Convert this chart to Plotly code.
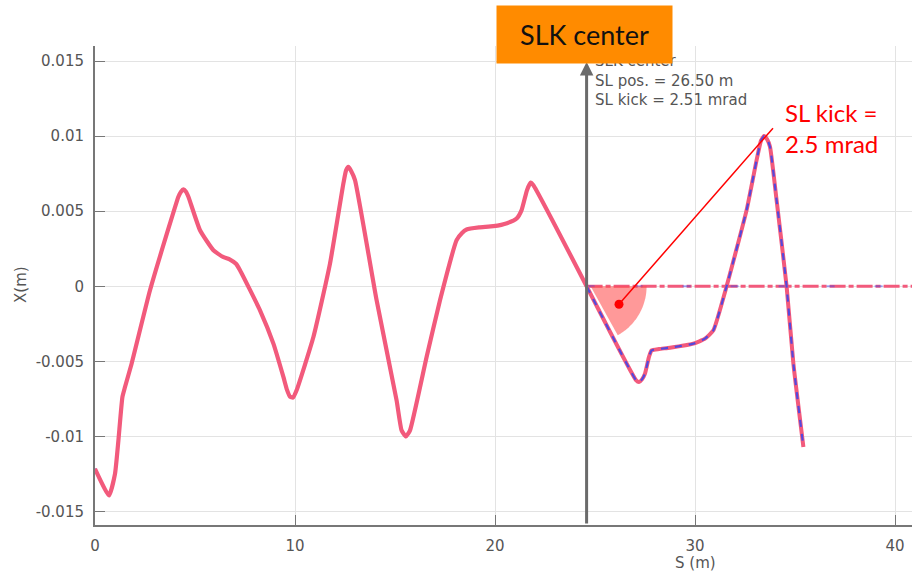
import numpy as np
import plotly.graph_objects as go

# Horizontal closed orbit upstream of the kicker (both codes overlap here)
s_orbit = [0.0, 0.7, 1.0, 1.17, 1.37, 1.5, 1.83, 2.75, 3.75, 4.17, 4.3, 4.42, 4.55, 4.67,
           5.25, 5.92, 6.4, 6.75, 7.05, 7.25, 8.25, 8.92, 9.42, 9.6, 9.75, 9.9, 10.08,
           10.92, 11.75, 12.42, 12.55, 12.67, 12.8, 13.0, 14.08, 15.08, 15.33, 15.55,
           15.75, 16.58, 17.25, 18.08, 18.35, 18.58, 19.2, 19.92, 20.6, 21.08, 21.33,
           21.6, 21.78, 21.92, 24.58]
x_orbit = [-0.01216, -0.01393, -0.01249, -0.01027, -0.00738, -0.00671, -0.00516, -0.00027,
           0.00418, 0.00596, 0.00630, 0.00645, 0.00630, 0.00596,
           0.00373, 0.00240, 0.00195, 0.00178, 0.00150, 0.00107, -0.00160, -0.00382,
           -0.00604, -0.00690, -0.00735, -0.00742, -0.00693,
           -0.00338, 0.00151, 0.00685, 0.00770, 0.00795, 0.00770, 0.00707, -0.00093,
           -0.00760, -0.00960, -0.01000, -0.00960, -0.00471, -0.00093, 0.00307, 0.00355,
           0.00378, 0.00392, 0.00400, 0.00420, 0.00451, 0.00507,
           0.00640, 0.00690, 0.00673, 0.0]

# Orbit downstream of the SL kick
s_kicked = [24.58, 27.05, 27.2, 27.35, 27.5, 27.7, 27.83, 28.2, 28.75, 29.92, 30.5, 30.92,
            31.58, 32.58, 33.08, 33.3, 33.45, 33.6, 33.75, 34.08, 34.58, 34.92, 35.42]
x_kicked = [0.0, -0.00625, -0.00638, -0.00620, -0.00582, -0.00470, -0.00427, -0.00418,
            -0.00409, -0.00382, -0.00349, -0.00293,
            0.0, 0.00507, 0.00840, 0.00970, 0.01000, 0.00980, 0.00929, 0.00573, 0.0,
            -0.00516, -0.01070]

# Unperturbed orbit after the kicker
s_flat = [24.58, 41.5]
x_flat = [0.0, 0.0]

x_ticks = [0, 10, 20, 30, 40]
y_ticks = [-0.015, -0.01, -0.005, 0, 0.005, 0.01, 0.015]
y_tick_text = ["-0.015", "-0.01", "-0.005", "0", "0.005", "0.01", "0.015"]

slk_s = 24.58          # kicker location along the line (m)
kick_angle_deg = 61.0  # apparent deflection angle on screen

W, H = 912, 574
M_L, M_R, M_T, M_B = 95, 0, 46, 49
x_range = [0, 40.85]
y_range = [-0.0159, 0.016]

PINK = "#f25a7c"
BLUE = "#3a46ee"
GREY_TXT = "#555555"
AXIS = "#777777"

fig = go.Figure()

smooth = dict(shape="spline", smoothing=0.45)

fig.add_trace(go.Scatter(x=s_orbit, y=x_orbit, mode="lines",
                         line=dict(color=BLUE, width=2.5, **smooth), hoverinfo="skip"))
fig.add_trace(go.Scatter(x=s_orbit, y=x_orbit, mode="lines",
                         line=dict(color=PINK, width=4.2, **smooth), hoverinfo="skip"))

fig.add_trace(go.Scatter(x=s_flat, y=x_flat, mode="lines",
                         line=dict(color=PINK, width=3, dash="16px,3px,5px,3px"),
                         hoverinfo="skip"))
fig.add_trace(go.Scatter(x=s_flat, y=x_flat, mode="lines", opacity=0.45,
                         line=dict(color=BLUE, width=2, dash="8px,40px"),
                         hoverinfo="skip"))

fig.add_trace(go.Scatter(x=s_kicked, y=x_kicked, mode="lines",
                         line=dict(color=PINK, width=4, **smooth), hoverinfo="skip"))
fig.add_trace(go.Scatter(x=s_kicked, y=x_kicked, mode="lines", opacity=0.85,
                         line=dict(color=BLUE, width=2.2, dash="7px,7px", **smooth),
                         hoverinfo="skip"))

# Kick-angle wedge, drawn with a fixed on-screen radius
px_per_s = (W - M_L - M_R) / (x_range[1] - x_range[0])
px_per_x = (H - M_T - M_B) / (y_range[1] - y_range[0])
r_px = 56
cs = slk_s + 4 / px_per_s
t = np.radians(np.linspace(0, -kick_angle_deg, 40))
ws = cs + r_px * np.cos(t) / px_per_s
wx = r_px * np.sin(t) / px_per_x
path = f"M {cs},0 " + " ".join(f"L {a},{b}" for a, b in zip(ws, wx)) + " Z"

dot_s, dot_x = 26.2, -0.0012
lbl_s, lbl_x = 33.9, 0.01053

shapes = [
    dict(type="path", path=path, xref="x", yref="y", fillcolor="rgba(255,70,70,0.55)",
         line=dict(width=0), layer="above"),
    dict(type="line", xref="x", yref="y", x0=dot_s, y0=dot_x, x1=lbl_s, y1=lbl_x,
         line=dict(color="#ff0000", width=1.5), layer="above"),
    dict(type="circle", xref="x", yref="y", xsizemode="pixel", ysizemode="pixel",
         xanchor=dot_s, yanchor=dot_x, x0=-4.5, x1=4.5, y0=-4.5, y1=4.5,
         fillcolor="#ff0000", line=dict(width=0), layer="above"),
]


def px_to_paper(px, py):
    return ((px - M_L) / (W - M_L - M_R), (H - M_B - py) / (H - M_T - M_B))


box_x, box_y = px_to_paper(584.5, 34.5)
ylab_x, ylab_y = px_to_paper(21, 285)
xlab_x, xlab_y = px_to_paper(695, 563)

annotations = [
    # kicker marker arrow
    dict(x=slk_s, y=0.01493, ax=slk_s, ay=y_range[0], xref="x", yref="y",
         axref="x", ayref="y", text="", showarrow=True, arrowhead=2, arrowsize=0.9,
         arrowwidth=3, arrowcolor="#6b6b6b"),
    dict(x=24.9, y=0.0137, xref="x", yref="y", xanchor="left", yanchor="middle",
         align="left", showarrow=False,
         text="SLK center<br>SL pos. = 26.50 m<br>SL kick = 2.51 mrad",
         font=dict(family="DejaVu Sans", size=15, color=GREY_TXT)),
    dict(x=box_x, y=box_y, xref="paper", yref="paper", xanchor="center",
         yanchor="middle", showarrow=False, text="SLK center", width=175, height=57,
         borderpad=0, bgcolor="#ff8b00",
         font=dict(family="Lato", size=27, color="#111111")),
    dict(x=34.4, y=lbl_x, xref="x", yref="y", xanchor="left", yanchor="middle",
         align="left", showarrow=False, text="SL kick =<br>2.5 mrad",
         font=dict(family="Lato", size=24, color="#ff0000")),
    # axis titles
    dict(x=ylab_x, y=ylab_y, xref="paper", yref="paper", xanchor="center",
         yanchor="middle", showarrow=False, textangle=-90, text="X(m)",
         font=dict(family="DejaVu Sans", size=15, color=GREY_TXT)),
    dict(x=xlab_x, y=xlab_y, xref="paper", yref="paper", xanchor="center",
         yanchor="middle", showarrow=False, text="S (m)",
         font=dict(family="DejaVu Sans", size=15, color=GREY_TXT)),
]

fig.update_layout(
    width=W, height=H,
    margin=dict(l=M_L, r=M_R, t=M_T, b=M_B, pad=0),
    paper_bgcolor="white", plot_bgcolor="white",
    showlegend=False,
    shapes=shapes, annotations=annotations,
    xaxis=dict(range=x_range, tickvals=x_ticks, ticks="inside", ticklen=10,
               tickcolor=AXIS, tickwidth=1, showline=True, linecolor=AXIS, linewidth=2,
               showgrid=True, gridcolor="#e3e3e3", gridwidth=1, zeroline=False,
               ticklabelstandoff=6,
               tickfont=dict(family="DejaVu Sans", size=15, color=GREY_TXT)),
    yaxis=dict(range=y_range, tickvals=y_ticks, ticktext=y_tick_text, ticks="inside",
               ticklen=10, tickcolor=AXIS, tickwidth=1, showline=True, linecolor=AXIS,
               linewidth=2, showgrid=True, gridcolor="#e3e3e3", gridwidth=1,
               zeroline=False, ticklabelstandoff=6,
               tickfont=dict(family="DejaVu Sans", size=15, color=GREY_TXT)),
)

fig.write_html("out.html")
